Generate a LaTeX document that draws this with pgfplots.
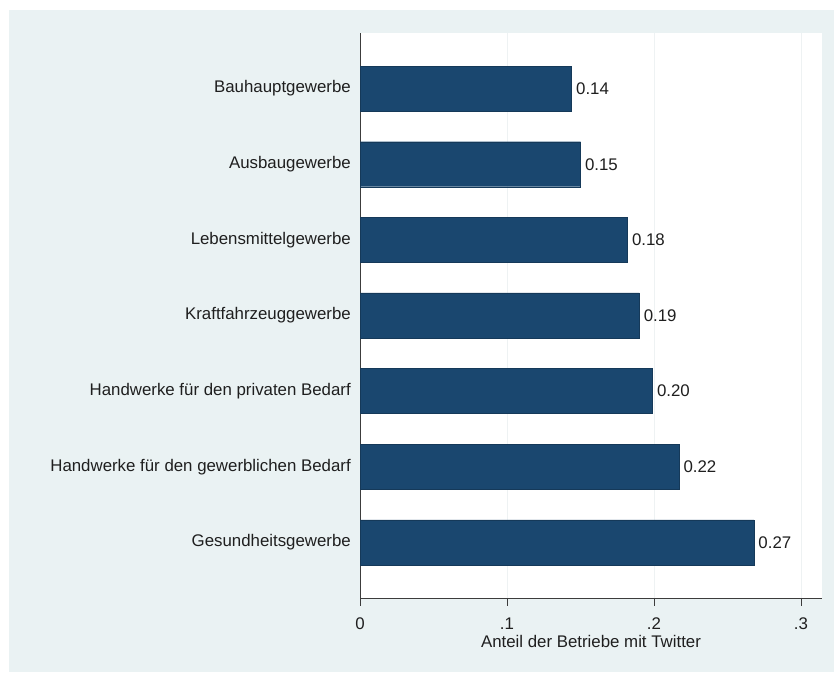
\documentclass[border=0pt]{standalone}
\usepackage{pgfplots}
\pgfplotsset{compat=1.18}
\usepackage{fontspec}
\setmainfont{Liberation Sans}
\definecolor{stbg}{HTML}{EAF2F3}
\definecolor{stnavy}{HTML}{1A476F}
\definecolor{stgrid}{HTML}{EEF2F3}
\definecolor{staxis}{HTML}{3C3C3C}
\begin{document}
\begin{tikzpicture}[x=1bp,y=1bp]
\path[fill=white] (0,0) rectangle (834,673);
\fill[stbg] (9,1) rectangle (834,663);
\begin{axis}[
  at={(360bp,75bp)}, anchor=south west,
  width=462bp, height=565bp, scale only axis,
  xbar, bar width=45bp, bar shift=0pt,
  xmin=0, xmax=0.3143,
  ymin=-0.735, ymax=6.735,
  axis background/.style={fill=white},
  axis x line*=bottom, axis y line*=left,
  axis line style={staxis, line width=0.9bp},
  x axis line style={-}, y axis line style={-},
  xtick={0,0.1,0.2,0.3}, xticklabels={0,.1,.2,.3},
  /pgf/number format/assume math mode=true,
  tick align=outside, major tick length=8bp,
  xtick style={staxis, line width=0.9bp},
  xmajorgrids, grid style={stgrid, line width=0.8bp},
  ytick={0,1,2,3,4,5,6},
  yticklabels={Gesundheitsgewerbe,Handwerke für den gewerblichen Bedarf,Handwerke für den privaten Bedarf,Kraftfahrzeuggewerbe,Lebensmittelgewerbe,Ausbaugewerbe,Bauhauptgewerbe},
  ytick style={draw=none},
  ymajorgrids=false,
  tick label style={font=\fontsize{16.9}{20}\selectfont, text=black!88},
  xticklabel style={anchor=center, yshift=-18bp},
  yticklabel style={anchor=east, xshift=-1bp, inner sep=0pt},
  xlabel={Anteil der Betriebe mit Twitter},
  xlabel style={at={(axis description cs:0.5,0)}, anchor=center, yshift=-43bp, font=\fontsize{16.9}{20}\selectfont, text=black!88},
  nodes near coords,
  point meta=explicit symbolic,
  every node near coord/.append style={anchor=west, xshift=1bp, font=\fontsize{16.9}{20}\selectfont, text=black!88},
  clip=false,
]
\addplot[fill=stnavy, draw=stnavy!80!black, line width=0.4bp] table[meta=lab] {
x y lab
0.268 0 0.27
0.217 1 0.22
0.199 2 0.20
0.190 3 0.19
0.182 4 0.18
0.150 5 0.15
0.144 6 0.14
};
\end{axis}
\end{tikzpicture}
\end{document}
